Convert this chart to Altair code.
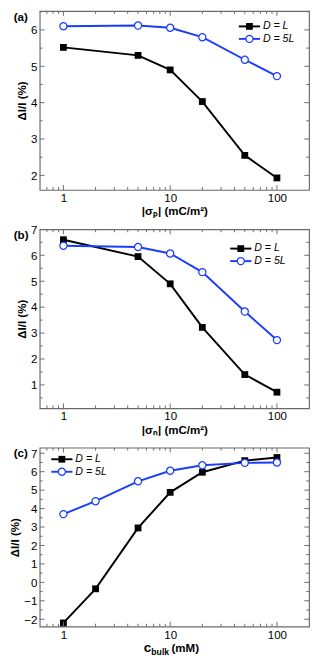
import altair as alt
import pandas as pd

FONT = "Liberation Sans"
FRAME = "#6a6a6a"
SERIES = ["D = L", "D = 5L"]
COLORS = ["#000000", "#1a3cff"]

# panel (a)
x_sigma = [1, 5, 10, 20, 50, 100]
a_L = [5.52, 5.30, 4.90, 4.03, 2.55, 1.93]
a_5L = [6.10, 6.12, 6.06, 5.80, 5.18, 4.73]
# panel (b)
b_L = [6.60, 5.95, 4.90, 3.22, 1.40, 0.72]
b_5L = [6.37, 6.32, 6.07, 5.35, 3.83, 2.73]
# panel (c)
x_bulk = [1, 2, 5, 10, 20, 50, 100]
c_L = [-2.20, -0.35, 2.95, 4.88, 5.97, 6.60, 6.77]
c_5L = [3.70, 4.40, 5.48, 6.05, 6.35, 6.48, 6.50]

x_major = [1, 10, 100]
x_minor = [0.7, 0.8, 0.9, 2, 3, 4, 5, 6, 7, 8, 9, 20, 30, 40, 50, 60, 70, 80, 90]
a_ymajor = [2, 3, 4, 5, 6]
a_yminor = [2.5, 3.5, 4.5, 5.5, 6.5]
b_ymajor = [1, 2, 3, 4, 5, 6, 7]
b_yminor = [0.5, 1.5, 2.5, 3.5, 4.5, 5.5, 6.5]
c_ymajor = [-2, -1, 0, 1, 2, 3, 4, 5, 6, 7]
c_yminor = [-1.5, -0.5, 0.5, 1.5, 2.5, 3.5, 4.5, 5.5, 6.5]

W = 280
H = 186


def panel(xs, yl, y5, ydom, ymajor, yminor, label, xtitle, leg_x, leg_y):
    df = pd.DataFrame({
        "x": xs + xs,
        "y": yl + y5,
        "series": [SERIES[0]] * len(xs) + [SERIES[1]] * len(xs),
    })
    xsc = alt.Scale(type="log", domain=[0.6, 200])
    ysc = alt.Scale(domain=ydom, nice=False, zero=False)
    xax = alt.Axis(values=x_major, format="~g", ticks=False, domain=False, grid=False,
                   labelFontSize=12, labelPadding=3, labelColor="black",
                   title=xtitle if xtitle else "", titleFontSize=12,
                   titleFontWeight="bold", titlePadding=3, titleColor="black")
    yax = alt.Axis(values=ymajor, ticks=False, domain=False, grid=False,
                   labelFontSize=12, labelPadding=3, labelColor="black",
                   title="ΔI/I (%)", titleFontSize=12, titleFontWeight="bold",
                   titlePadding=2, titleColor="black")
    X = lambda f: alt.X(f, scale=xsc, axis=xax)
    Y = lambda f: alt.Y(f, scale=ysc, axis=yax)
    base = alt.Chart(df)
    lines = base.mark_line(strokeWidth=2).encode(
        x=X("x:Q"), y=Y("y:Q"),
        color=alt.Color("series:N", scale=alt.Scale(domain=SERIES, range=COLORS), legend=None),
    )
    sq = base.transform_filter(alt.datum.series == SERIES[0]).mark_point(
        shape="square", filled=True, size=50, color=COLORS[0], opacity=1
    ).encode(x=X("x:Q"), y=Y("y:Q"))
    ci = base.transform_filter(alt.datum.series == SERIES[1]).mark_point(
        shape="circle", filled=True, fill="white", stroke=COLORS[1], strokeWidth=1.3,
        size=55, opacity=1
    ).encode(x=X("x:Q"), y=Y("y:Q"))

    layers = [lines, sq, ci]

    # inward ticks
    for vals, L in ((x_major, 5), (x_minor, 3)):
        t = alt.Chart(pd.DataFrame({"x": vals}))
        layers.append(t.mark_rule(color=FRAME, strokeWidth=1).encode(
            x=X("x:Q"), y=alt.value(H), y2=alt.value(H - L)))
        layers.append(t.mark_rule(color=FRAME, strokeWidth=1).encode(
            x=X("x:Q"), y=alt.value(0), y2=alt.value(L)))
    for vals, L in ((ymajor, 5), (yminor, 3)):
        vv = [v for v in vals if ydom[0] < v < ydom[1]]
        t = alt.Chart(pd.DataFrame({"y": vv}))
        layers.append(t.mark_rule(color=FRAME, strokeWidth=1).encode(
            y=Y("y:Q"), x=alt.value(0), x2=alt.value(L)))
        layers.append(t.mark_rule(color=FRAME, strokeWidth=1).encode(
            y=Y("y:Q"), x=alt.value(W), x2=alt.value(W - L)))

    # legend
    for i, name in enumerate(SERIES):
        ry = leg_y + i * 13
        c = alt.Chart(pd.DataFrame({"series": [name]}))
        layers.append(c.mark_rule(color=COLORS[i], strokeWidth=2).encode(
            x=alt.value(leg_x), x2=alt.value(leg_x + 22), y=alt.value(ry)))
        if i == 0:
            layers.append(c.mark_point(shape="square", filled=True, size=50, color=COLORS[0], opacity=1)
                          .encode(x=alt.value(leg_x + 11), y=alt.value(ry)))
        else:
            layers.append(c.mark_point(shape="circle", filled=True, fill="white", stroke=COLORS[1],
                                       strokeWidth=1.3, size=55, opacity=1)
                          .encode(x=alt.value(leg_x + 11), y=alt.value(ry)))
        layers.append(c.mark_text(align="left", baseline="middle", font=FONT, fontSize=11,
                                  fontStyle="italic", color="black")
                      .encode(x=alt.value(leg_x + 25), y=alt.value(ry), text="series:N"))

    # panel label
    layers.append(alt.Chart(pd.DataFrame({"l": [label]})).mark_text(
        align="left", baseline="top", font=FONT, fontSize=12, fontWeight="bold", color="black"
    ).encode(x=alt.value(-27), y=alt.value(1), text="l:N"))

    if not xtitle:
        parts = [("c", W / 2 - 32, H + 26, 14), ("bulk", W / 2 - 24, H + 30, 9), ("(mM)", W / 2 - 3, H + 26, 12)]
        for txt, px, py, fs in parts:
            layers.append(alt.Chart(pd.DataFrame({"l": [txt]})).mark_text(
                align="left", baseline="alphabetic", font=FONT, fontSize=fs, fontWeight="bold", color="black"
            ).encode(x=alt.value(px), y=alt.value(py), text="l:N"))

    return alt.layer(*layers).properties(width=W, height=H)


pa = panel(x_sigma, a_L, a_5L, [1.6, 6.52], a_ymajor, a_yminor, "(a)", "|σₚ| (mC/m²)", W - 73, 16)
pb = panel(x_sigma, b_L, b_5L, [0.1, 7.0], b_ymajor, b_yminor, "(b)", "|σₙ| (mC/m²)", W - 82, 20)
pc = panel(x_bulk, c_L, c_5L, [-2.4, 7.3], c_ymajor, c_yminor, "(c)", None, 12, 12)

chart = alt.vconcat(pa, pb, pc, spacing=41, bounds="flush").properties(
    padding={"left": 0, "top": -12, "right": 0, "bottom": 0},
).configure_view(stroke=FRAME, strokeWidth=1.2).configure_axis(
    labelFont=FONT, titleFont=FONT
)

chart.save("out.html", embed_options={"renderer": "svg", "actions": False})
